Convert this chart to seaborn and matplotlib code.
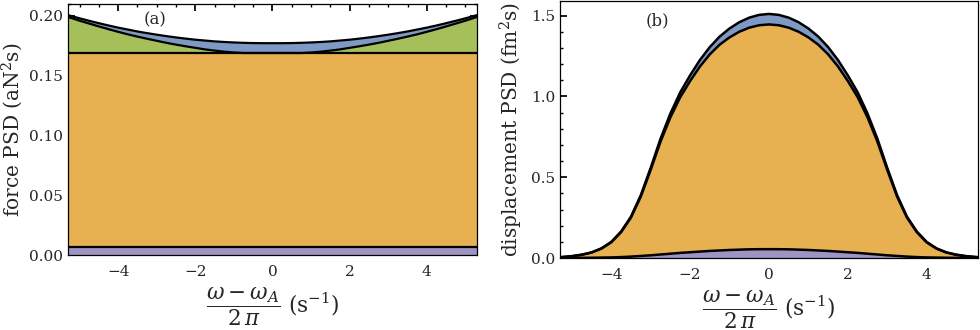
import matplotlib
matplotlib.use("Agg")
import matplotlib.pyplot as plt
from matplotlib.ticker import MultipleLocator
import seaborn as sns

# common frequency grid, (omega - omega_A) / 2 pi in 1/s
freq = [-5.5, -5.25, -5.0, -4.75, -4.5, -4.25, -4.0, -3.75, -3.5, -3.25, -3.0,
        -2.75, -2.5, -2.25, -2.0, -1.75, -1.5, -1.25, -1.0, -0.75, -0.5, -0.25,
        0.0, 0.25, 0.5, 0.75, 1.0, 1.25, 1.5, 1.75, 2.0, 2.25, 2.5, 2.75, 3.0,
        3.25, 3.5, 3.75, 4.0, 4.25, 4.5, 4.75, 5.0, 5.25, 5.5]

# ---- (a) force PSD (aN^2 s), upper boundary of each stacked area ----
force_purple_top = 0.0065
force_orange_top = 0.169
force_green_top = [0.2013, 0.1986, 0.1960, 0.1936, 0.1912, 0.1889, 0.1867, 0.1846,
                   0.1827, 0.1809, 0.1792, 0.1775, 0.1760, 0.1746, 0.1733, 0.1720,
                   0.1710, 0.1701, 0.1694, 0.1690, 0.1690, 0.1690, 0.1690, 0.1690,
                   0.1690, 0.1690, 0.1694, 0.1701, 0.1710, 0.1720, 0.1733, 0.1746,
                   0.1760, 0.1775, 0.1792, 0.1809, 0.1827, 0.1846, 0.1867, 0.1889,
                   0.1912, 0.1936, 0.1960, 0.1986, 0.2013]
force_blue_top = [0.2025, 0.2002, 0.1980, 0.1959, 0.1939, 0.1920, 0.1902, 0.1886,
                  0.1870, 0.1856, 0.1843, 0.1831, 0.1820, 0.1810, 0.1801, 0.1794,
                  0.1787, 0.1782, 0.1778, 0.1775, 0.1773, 0.1772, 0.1772, 0.1772,
                  0.1773, 0.1775, 0.1778, 0.1782, 0.1787, 0.1794, 0.1801, 0.1810,
                  0.1820, 0.1831, 0.1843, 0.1856, 0.1870, 0.1886, 0.1902, 0.1920,
                  0.1939, 0.1959, 0.1980, 0.2002, 0.2025]

# ---- (b) displacement PSD (fm^2 s) ----
disp_purple_top = [0.0, 0.0005, 0.001, 0.0015, 0.002, 0.003, 0.004, 0.006, 0.009,
                   0.013, 0.017, 0.022, 0.027, 0.032, 0.036, 0.040, 0.044, 0.047,
                   0.050, 0.052, 0.054, 0.0548, 0.055, 0.0548, 0.054, 0.052, 0.050,
                   0.047, 0.044, 0.040, 0.036, 0.032, 0.027, 0.022, 0.017, 0.013,
                   0.009, 0.006, 0.004, 0.003, 0.002, 0.0015, 0.001, 0.0005, 0.0]
disp_orange_top = [0.003, 0.006, 0.011, 0.020, 0.034, 0.058, 0.097, 0.160, 0.250,
                   0.380, 0.545, 0.720, 0.870, 0.995, 1.095, 1.185, 1.260, 1.320,
                   1.365, 1.400, 1.425, 1.440, 1.445, 1.440, 1.425, 1.400, 1.365,
                   1.320, 1.260, 1.185, 1.095, 0.995, 0.870, 0.720, 0.545, 0.380,
                   0.250, 0.160, 0.097, 0.058, 0.034, 0.020, 0.011, 0.006, 0.003]
disp_blue_top = [0.003, 0.006, 0.012, 0.021, 0.035, 0.060, 0.100, 0.164, 0.256,
                 0.389, 0.558, 0.738, 0.894, 1.025, 1.130, 1.225, 1.305, 1.370,
                 1.420, 1.459, 1.487, 1.504, 1.510, 1.504, 1.487, 1.459, 1.420,
                 1.370, 1.305, 1.225, 1.130, 1.025, 0.894, 0.738, 0.558, 0.389,
                 0.256, 0.164, 0.100, 0.060, 0.035, 0.021, 0.012, 0.006, 0.003]

purple = "#9F93C2"
orange = "#E7B050"
green = "#A5C05B"
blue = "#7E9AC4"

sns.set_theme(style="ticks")
plt.rcParams["font.family"] = ["DejaVu Serif"]
plt.rcParams["mathtext.fontset"] = "dejavuserif"
plt.rcParams["axes.edgecolor"] = "black"
plt.rcParams["axes.linewidth"] = 0.9

xlabel = r"$\dfrac{\omega-\omega_A}{2\,\pi}$ (s$^{-1}$)"

fig = plt.figure(figsize=(9.8, 3.3), dpi=100)
ax1 = fig.add_axes([0.0694, 0.227, 0.4173, 0.761])
ax2 = fig.add_axes([0.5714, 0.218, 0.4265, 0.779])

# (a)
n = len(freq)
purple_line = [force_purple_top] * n
orange_line = [force_orange_top] * n
ax1.fill_between(freq, 0, purple_line, color=purple, lw=0)
ax1.fill_between(freq, purple_line, orange_line, color=orange, lw=0)
ax1.fill_between(freq, orange_line, force_green_top, color=green, lw=0)
ax1.fill_between(freq, force_green_top, force_blue_top, color=blue, lw=0)
for y in (purple_line, orange_line, force_green_top, force_blue_top):
    sns.lineplot(x=freq, y=y, color="black", lw=1.6, ax=ax1)
ax1.set_xlim(-5.3, 5.3)
ax1.set_ylim(0, 0.21)
ax1.xaxis.set_major_locator(MultipleLocator(2))
ax1.xaxis.set_minor_locator(MultipleLocator(0.5))
ax1.yaxis.set_major_locator(MultipleLocator(0.05))
ax1.yaxis.set_minor_locator(MultipleLocator(0.01))
ax1.yaxis.set_major_formatter(plt.FormatStrFormatter("%.2f"))
ax1.tick_params(which="both", direction="in", top=True, right=True,
                labelsize=11, color="black")
ax1.tick_params(axis="x", which="major", pad=7)
ax1.tick_params(which="major", length=5)
ax1.tick_params(which="minor", length=2.5)
ax1.set_ylabel("force PSD (aN$^2$s)", fontsize=14.5, labelpad=3)
ax1.set_xlabel(xlabel, fontsize=15.5, labelpad=5)
ax1.text(0.213, 0.936, "(a)", transform=ax1.transAxes, fontsize=12,
         ha="center", va="center")

# (b)
ax2.fill_between(freq, 0, disp_purple_top, color=purple, lw=0)
ax2.fill_between(freq, disp_purple_top, disp_orange_top, color=orange, lw=0)
ax2.fill_between(freq, disp_orange_top, disp_blue_top, color=blue, lw=0)
for y in (disp_purple_top, disp_orange_top, disp_blue_top):
    sns.lineplot(x=freq, y=y, color="black", lw=1.8, ax=ax2)
ax2.set_xlim(-5.3, 5.3)
ax2.set_ylim(0, 1.59)
ax2.xaxis.set_major_locator(MultipleLocator(2))
ax2.xaxis.set_minor_locator(MultipleLocator(0.5))
ax2.yaxis.set_major_locator(MultipleLocator(0.5))
ax2.yaxis.set_minor_locator(MultipleLocator(0.1))
ax2.tick_params(which="both", direction="in", top=False, right=False,
                labelsize=11, color="black")
ax2.tick_params(axis="x", which="major", pad=7)
ax2.tick_params(which="major", length=5)
ax2.tick_params(which="minor", length=2.5)
ax2.set_ylabel("displacement PSD (fm$^2$s)", fontsize=14.5, labelpad=4)
ax2.set_xlabel(xlabel, fontsize=15.5, labelpad=5)
ax2.text(0.234, 0.922, "(b)", transform=ax2.transAxes, fontsize=12,
         ha="center", va="center")

fig.savefig("out.png", dpi=100)
